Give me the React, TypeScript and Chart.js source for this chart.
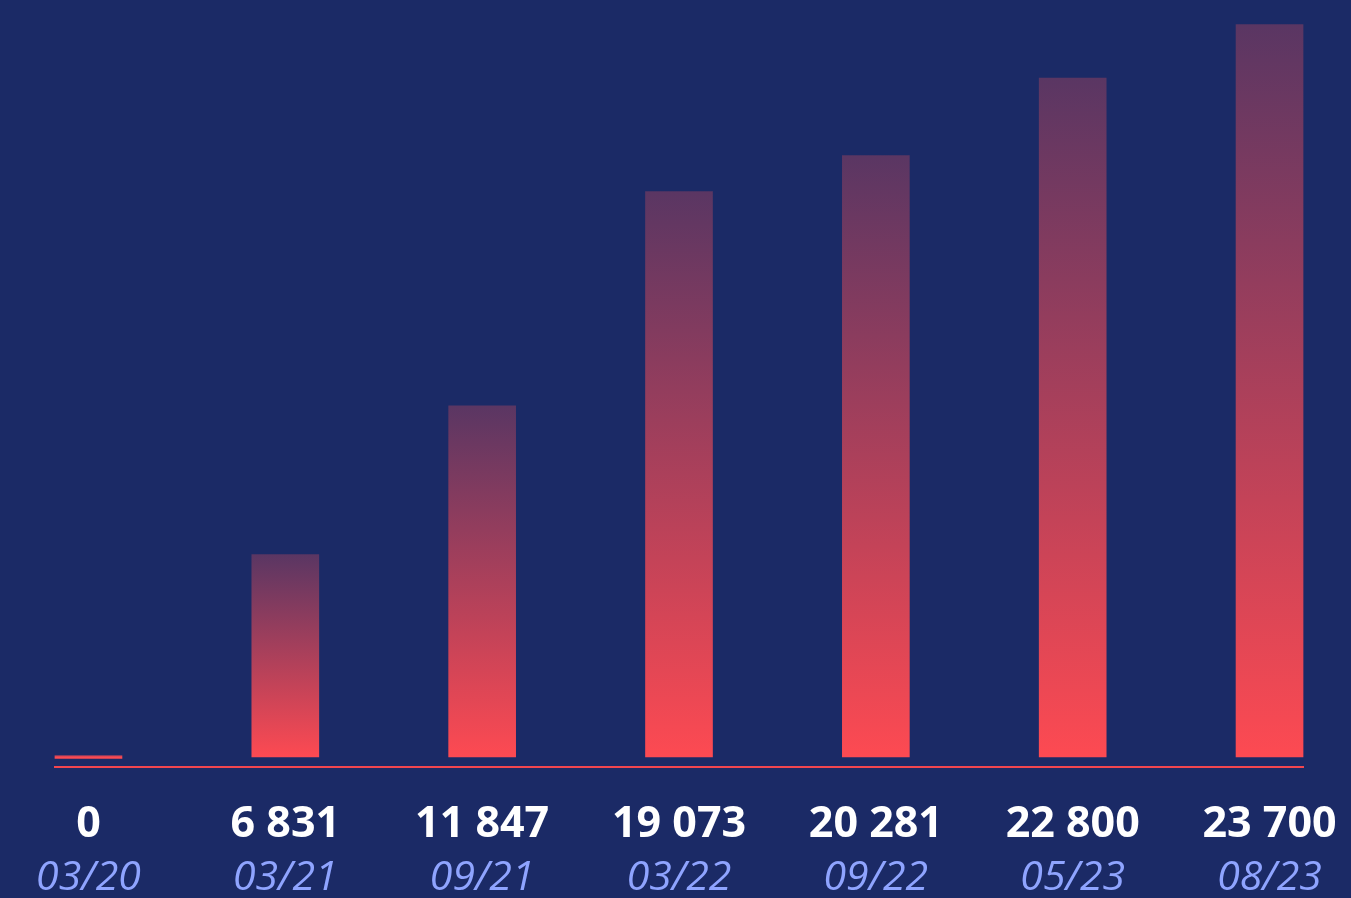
import React, { useEffect, useRef } from "react";
import { Chart, registerables } from "chart.js";

Chart.register(...registerables);

// Data
const dates = ["03/20", "03/21", "09/21", "03/22", "09/22", "05/23", "08/23"];
const valueLabels = ["0", "6 831", "11 847", "19 073", "20 281", "22 800", "23 700"];
// bar heights as drawn in the picture
const barHeights = [0, 6831, 11847, 19073, 20281, 22900, 24700];

const BG = "#1b2a66";
const BAR_TOP = "#5a3663";
const BAR_BOTTOM = "#fd4a52";
const BASELINE = "#f2464f";
const DATE_COLOR = "#8fa4ff";
const FONT = "'Open Sans', sans-serif";

export default function App() {
  const ref = useRef<HTMLCanvasElement>(null);

  useEffect(() => {
    document.body.style.margin = "0";
    const canvas = ref.current!;
    const idx = barHeights.map((_, i) => i);
    const MINLEN = 3;

    const chart = new Chart(canvas, {
      type: "bar",
      data: {
        datasets: [
          {
            data: barHeights.map((v, i) => ({ x: i, y: v })),
            barThickness: 67,
            minBarLength: MINLEN,
            borderWidth: 0,
            clip: false,
            backgroundColor: (ctx: any) => {
              const c = ctx.chart;
              const area = c.chartArea;
              if (!area || ctx.type !== "data" || !c.scales.y) return BAR_BOTTOM;
              const ys = c.scales.y;
              const v = ctx.raw ? ctx.raw.y : 0;
              const base = ys.getPixelForValue(0);
              let top = ys.getPixelForValue(v);
              if (base - top < MINLEN) top = base - MINLEN;
              const g = c.ctx.createLinearGradient(0, top, 0, base);
              g.addColorStop(0, BAR_TOP);
              g.addColorStop(1, BAR_BOTTOM);
              return g;
            },
          } as any,
        ],
      },
      options: {
        animation: false,
        responsive: true,
        maintainAspectRatio: false,
        layout: { padding: { left: 55, right: 48, top: 0, bottom: 0 } },
        plugins: { legend: { display: false }, tooltip: { enabled: false } },
        scales: {
          x: {
            type: "linear",
            position: "bottom",
            offset: false,
            weight: 0,
            min: -0.17,
            max: 6.17,
            grid: { display: false, drawTicks: false, offset: false },
            border: { display: true, color: BASELINE, width: 2 },
            ticks: {
              includeBounds: false,
              autoSkip: false,
              maxRotation: 0,
              stepSize: 1,
              padding: 32,
              color: "#ffffff",
              font: { family: FONT, size: 43, weight: "bold" },
              callback: (v: any) => valueLabels[v as number] ?? "",
            },
            afterBuildTicks: (ax: any) => {
              ax.ticks = idx.map((v) => ({ value: v }));
            },
            afterFit: (ax: any) => {
              ax.height = 70;
              ax.paddingLeft = 0;
              ax.paddingRight = 0;
            },
          } as any,
          x2: {
            type: "linear",
            position: "bottom",
            offset: false,
            display: true,
            weight: 1,
            min: -0.17,
            max: 6.17,
            grid: { display: false, drawTicks: false, offset: false },
            border: { display: false },
            ticks: {
              includeBounds: false,
              autoSkip: false,
              maxRotation: 0,
              stepSize: 1,
              padding: 17,
              color: DATE_COLOR,
              font: { family: FONT, size: 41, weight: "normal", style: "italic" },
              callback: (v: any) => dates[v as number] ?? "",
            },
            afterBuildTicks: (ax: any) => {
              ax.ticks = idx.map((v) => ({ value: v }));
            },
            afterFit: (ax: any) => {
              ax.height = 61;
              ax.paddingLeft = 0;
              ax.paddingRight = 0;
            },
          } as any,
          y: {
            display: false,
            min: -337,
            max: 25531,
          },
        },
      },
    });
    return () => chart.destroy();
  }, []);

  return (
    <div style={{ position: "fixed", left: 0, top: 0, width: 1351, height: 898, background: BG }}>
      <canvas ref={ref} />
    </div>
  );
}
